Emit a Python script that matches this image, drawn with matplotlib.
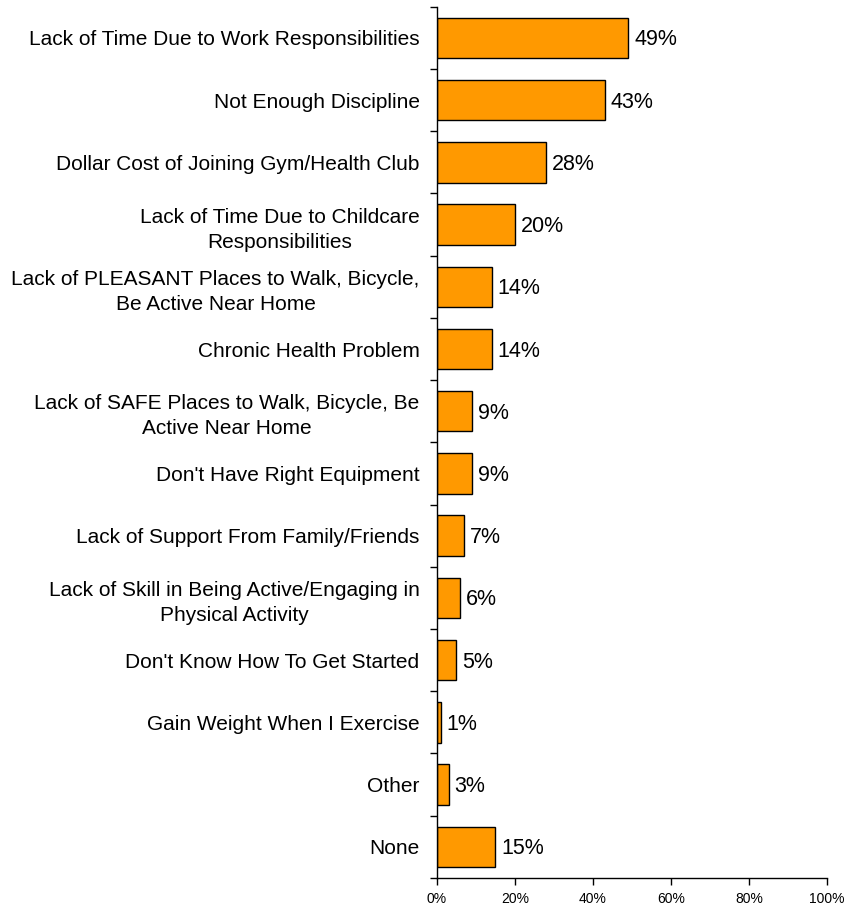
import matplotlib
matplotlib.use("Agg")
import matplotlib.pyplot as plt
import numpy as np
from matplotlib.ticker import FixedLocator, PercentFormatter

plt.rcParams['font.family'] = ['Liberation Sans', 'DejaVu Sans']

categories = [
    "Lack of Time Due to Work Responsibilities",
    "Not Enough Discipline",
    "Dollar Cost of Joining Gym/Health Club",
    "Lack of Time Due to Childcare\nResponsibilities",
    "Lack of PLEASANT Places to Walk, Bicycle,\nBe Active Near Home",
    "Chronic Health Problem",
    "Lack of SAFE Places to Walk, Bicycle, Be\nActive Near Home",
    "Don't Have Right Equipment",
    "Lack of Support From Family/Friends",
    "Lack of Skill in Being Active/Engaging in\nPhysical Activity",
    "Don't Know How To Get Started",
    "Gain Weight When I Exercise",
    "Other",
    "None",
]
values = [49, 43, 28, 20, 14, 14, 9, 9, 7, 6, 5, 1, 3, 15]
x_ticks = [0, 20, 40, 60, 80, 100]

fig = plt.figure(figsize=(8.46, 9.06), dpi=100)
ax = fig.add_axes([0.5165, 0.031, 0.461, 0.9615])

y = np.arange(len(categories))
ax.barh(y, values, height=0.65, color="#FF9900", edgecolor="black", linewidth=1.0)

# value labels just right of each bar
for yi, v in zip(y, values):
    ax.annotate(f"{v}%", xy=(v, yi), xytext=(4.3, -1.5), textcoords="offset points",
                va="center", ha="left", fontsize=15.5)

ax.set_xlim(0, 100)
ax.set_ylim(len(categories) - 0.5, -0.5)

ax.set_xticks(x_ticks)
ax.xaxis.set_major_formatter(PercentFormatter(decimals=0))
ax.tick_params(axis="x", labelsize=10, length=5, width=1, direction="out", pad=5)

ax.set_yticks(y)
ax.set_yticklabels(categories, fontsize=15)
for lbl in ax.get_yticklabels():
    lbl.set_multialignment("center")
    lbl.set_linespacing(1.4)
# tick marks sit between categories, labels at bar centres
ax.yaxis.set_minor_locator(FixedLocator(np.arange(-0.5, len(categories), 1.0)))
ax.tick_params(axis="y", which="major", length=0, pad=12.5)
ax.tick_params(axis="y", which="minor", length=5, width=1, direction="out")

ax.spines["top"].set_visible(False)
ax.spines["right"].set_visible(False)
ax.spines["left"].set_linewidth(1)
ax.spines["bottom"].set_linewidth(1)

fig.savefig("out.png", dpi=100)
